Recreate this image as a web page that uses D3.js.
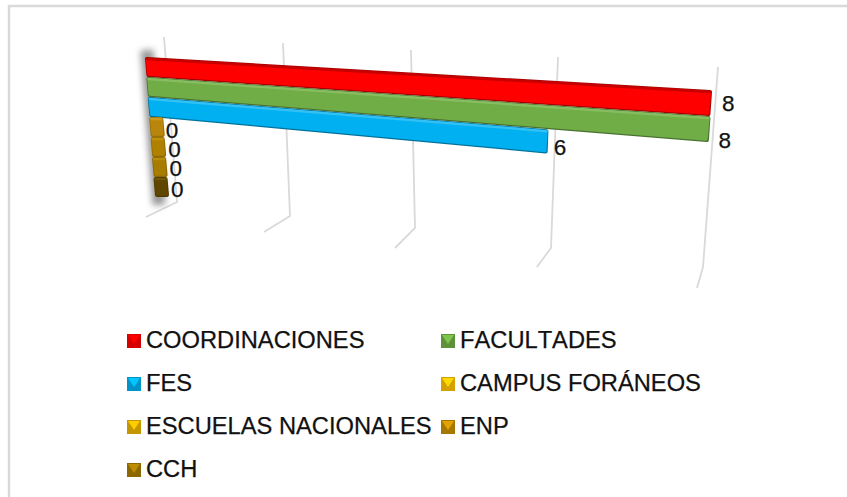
<!DOCTYPE html>
<html>
<head>
<meta charset="utf-8">
<script src="https://cdn.jsdelivr.net/npm/d3@7"></script>
<style>
html, body { margin: 0; padding: 0; background: #fff; }
text { font-family: "Liberation Sans", Arial, sans-serif; fill: #111; stroke: #111; stroke-width: 0.25px; font-kerning: none; }
</style>
</head>
<body>
<svg id="chart"></svg>
<script>
var categories = ["COORDINACIONES", "FACULTADES", "FES", "CAMPUS FORÁNEOS", "ESCUELAS NACIONALES", "ENP", "CCH"];
var values = [8, 8, 6, 0, 0, 0, 0];
var colors = ["#ff0000", "#70ad47", "#00b0f0", "#b8860b", "#b08000", "#a87c00", "#5f4600"];
var topColors = ["#c80000", "#86bd60", "#30c0f5", "#c89a20", "#c09010", "#b88c10", "#6f5408"];
var legendColors = ["#ff0000", "#70ad47", "#00b0f0", "#ffc000", "#e8b400", "#c89000", "#a87c00"];
var gridTicks = [0, 2, 4, 6, 8];

var width = 847, height = 497;

var svg = d3.select("#chart")
  .attr("width", width)
  .attr("height", height)
  .style("display", "block");

var defs = svg.append("defs");
defs.append("filter").attr("id", "blur")
  .attr("filterUnits", "userSpaceOnUse")
  .attr("x", 100).attr("y", 10).attr("width", 100).attr("height", 240)
  .append("feGaussianBlur").attr("stdDeviation", 3);
defs.append("filter").attr("id", "soft")
  .attr("filterUnits", "userSpaceOnUse")
  .attr("x", -width).attr("y", -height).attr("width", 2 * width).attr("height", 2 * height)
  .append("feGaussianBlur").attr("stdDeviation", 0.45);

// frame of the chart: left and top edge only, the crop cuts the rest
svg.append("path")
  .attr("d", "M9,497V6H847")
  .attr("fill", "none")
  .attr("stroke", "#d9d9d9")
  .attr("stroke-width", 2.4);

// perspective: bars get closer as value goes up
var depth = d3.scaleLinear().domain(gridTicks).range([0, 0.219, 0.449, 0.714, 1]);
var band = d3.scaleBand().domain(categories).range([0, 7]);

var leftEdge = d3.scaleLinear().domain([0, 7]).range([[145, 57], [155, 197]]);
var rightEdge = d3.scaleLinear().domain([0, 7]).range([[712, 90], [701, 272]]);

function project(v, c) {
  return d3.interpolateArray(leftEdge(c), rightEdge(c))(depth(v));
}

// gridlines on the back wall, then the short floor tick
var gridTop = d3.scaleLinear().domain(gridTicks).range([[164, 37], [283, 43], [411, 50], [558, 57], [718, 67]]);
var gridBottom = d3.scaleLinear().domain(gridTicks).range([[177, 202], [290, 216], [415, 228], [551, 248], [703, 267]]);
var gridFloor = d3.scaleLinear().domain(gridTicks).range([[146, 217], [264, 232], [395, 248], [537, 267], [697, 288]]);

svg.append("g")
  .attr("filter", "url(#soft)")
  .selectAll("path")
  .data(gridTicks)
  .enter().append("path")
  .attr("d", function(d) { return d3.line()([gridTop(d), gridBottom(d), gridFloor(d)]); })
  .attr("fill", "none")
  .attr("stroke", "#d9d9d9")
  .attr("stroke-width", 1.8);

// grey shadow down the axis wall
svg.append("path")
  .attr("d", d3.line()([[147, 50], [159, 205]]))
  .attr("stroke", "#808080")
  .attr("stroke-width", 13)
  .attr("opacity", 0.8)
  .attr("filter", "url(#blur)");

// zero bars still show as a small stub
var stubWidth = 14;
var r = 2;

var rows = categories.map(function(name, i) {
  var c0 = band(name), c1 = c0 + band.bandwidth();
  var a = project(0, c0), b = project(values[i], c0), e = project(values[i], c1), f = project(0, c1);
  if (values[i] === 0) {
    b = [a[0] + stubWidth, a[1]];
    e = [f[0] + stubWidth, f[1]];
  }
  return { name: name, value: values[i], color: colors[i], top: topColors[i], a: a, b: b, e: e, f: f };
});

function inset(d) {
  return [
    [d.a[0] + r, d.a[1] + r], [d.b[0] - r, d.b[1] + r],
    [d.e[0] - r, d.e[1] - r], [d.f[0] + r, d.f[1] - r]
  ];
}

var bars = svg.append("g")
  .attr("filter", "url(#soft)")
  .selectAll("g")
  .data(rows)
  .enter().append("g");

// dark rim first, the face sits a bit inside it
bars.append("path")
  .attr("d", function(d) { return d3.line()(inset(d)) + "Z"; })
  .attr("fill", function(d) { return d3.color(d.color).darker(d.value ? 1.2 : 0.5); })
  .attr("stroke", function(d) { return d3.color(d.color).darker(d.value ? 1.2 : 0.5); })
  .attr("stroke-width", 2 * r)
  .attr("stroke-linejoin", "round");

bars.append("path")
  .attr("d", function(d) {
    var p = inset(d);
    return d3.line()([[p[0][0], p[0][1] + 0.5], [p[1][0], p[1][1] + 0.5], [p[2][0] - 0.5, p[2][1] - 0.5], [p[3][0], p[3][1] - 0.5]]) + "Z";
  })
  .attr("fill", function(d) { return d.color; })
  .attr("stroke", function(d) { return d.color; })
  .attr("stroke-width", 2 * r - 1.5)
  .attr("stroke-linejoin", "round");

// top of the bevel
bars.append("path")
  .attr("d", function(d) {
    var p = inset(d);
    return d3.line()([[p[0][0], p[0][1]], [p[1][0], p[1][1]]]);
  })
  .attr("fill", "none")
  .attr("stroke", function(d) { return d.top; })
  .attr("stroke-width", 2.5)
  .attr("stroke-linecap", "round");

// value labels, the picture puts them a little off each bar end
var labelDx = [17, 15, 12, 8, 9, 9, 9];
var labelDy = [0, 11, 6, 3, 2, 1, 2];

svg.append("g").selectAll("text")
  .data(rows)
  .enter().append("text")
  .attr("x", function(d, i) { return (d.b[0] + d.e[0]) / 2 + labelDx[i]; })
  .attr("y", function(d, i) { return (d.b[1] + d.e[1]) / 2 + labelDy[i] + 8; })
  .attr("text-anchor", "middle")
  .attr("font-size", 22.5)
  .text(function(d) { return d.value; });

// legend, two columns
var legendRow = d3.scalePoint().domain([0, 1, 2, 3]).range([341, 470]);
var legendCol = d3.scalePoint().domain([0, 1]).range([127, 441]);
var boxSize = 14;

var legend = svg.append("g").selectAll("g")
  .data(categories)
  .enter().append("g")
  .attr("transform", function(d, i) {
    return "translate(" + legendCol(i % 2) + "," + legendRow(Math.floor(i / 2)) + ")";
  });

var s = boxSize, m = boxSize / 2, h = boxSize / 2;
var boxes = legend.append("g").attr("filter", "url(#soft)");
boxes.append("rect")
  .attr("y", -h).attr("width", s).attr("height", s)
  .attr("fill", function(d, i) { return d3.color(legendColors[i]).darker(0.5); });
boxes.append("path")
  .attr("d", d3.line()([[1, -h + 1], [s - 1, -h + 1], [m, 3]]) + "Z")
  .attr("fill", function(d, i) { return d3.color(legendColors[i]).brighter(0.35); });

legend.append("text")
  .attr("x", 19)
  .attr("y", 7)
  .attr("font-size", 23.7)
  .text(function(d) { return d; });
</script>
</body>
</html>
